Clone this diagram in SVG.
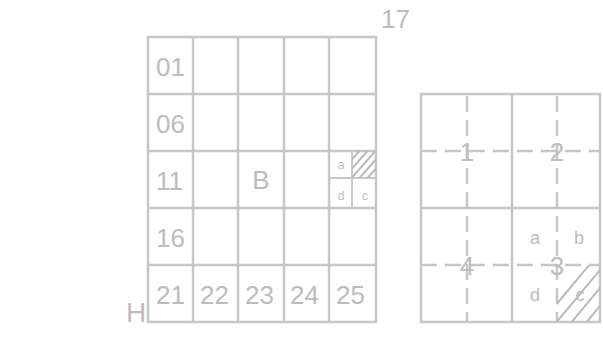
<svg xmlns="http://www.w3.org/2000/svg" width="603" height="352" viewBox="0 0 603 352">
<defs>
<style>
.ln{stroke:#c6c6c6;stroke-width:2.5;fill:none}
.thin{stroke:#c6c6c6;stroke-width:1.8;fill:none}
.dash{stroke:#c6c6c6;stroke-width:2.5;fill:none;stroke-dasharray:16 8}
.t{font-family:"Liberation Sans",Arial,sans-serif;fill:#bcbcbc}
.big{font-size:26px}
.sm{font-size:12px}
.md{font-size:18px}
.num{font-size:26px}
.hatch{stroke:#b8b8b8;stroke-width:2}
</style>
<clipPath id="clipL"><rect x="352" y="151" width="24" height="27"/></clipPath>
<clipPath id="clipR"><rect x="557" y="265" width="43" height="57"/></clipPath>
</defs>
<rect width="603" height="352" fill="#ffffff"/>
<g id="left-grid">
<rect class="ln" x="148" y="37" width="228" height="285"/>
<path class="ln" d="M193 37V322M238 37V322M284 37V322M329 37V322M148 94H376M148 151H376M148 208H376M148 265H376"/>
</g>
<g id="sub-cell">
<path class="thin" d="M352 151V208M329 178H376"/>
<g clip-path="url(#clipL)" class="hatch">
<path d="M348 182L378 148M356 182L386 148M364 182L394 148M340 182L370 148M332 182L362 148"/>
</g>
<text class="t sm" x="341" y="169" text-anchor="middle">a</text>
<text class="t sm" x="341" y="200" text-anchor="middle">d</text>
<text class="t sm" x="365" y="200" text-anchor="middle">c</text>
</g>
<g id="left-labels">
<text class="t big" x="156" y="76">01</text>
<text class="t big" x="156" y="133">06</text>
<text class="t big" x="156" y="190">11</text>
<text class="t big" x="156" y="247">16</text>
<text class="t big" x="156" y="304">21</text>
<text class="t big" x="200" y="304">22</text>
<text class="t big" x="245" y="304">23</text>
<text class="t big" x="290" y="304">24</text>
<text class="t big" x="336" y="304">25</text>
<text class="t big" x="261" y="189" text-anchor="middle">B</text>
<text class="t big" x="381" y="28">17</text>
<text class="t" font-size="28" x="126" y="322">H</text>
</g>
<g id="right-grid">
<rect class="ln" x="421" y="94" width="179" height="228"/>
<path class="ln" d="M512 94V322M421 208H600"/>
<path class="dash" d="M467 96V322M557 96V322M421 151H600M421 265H600"/>
<g clip-path="url(#clipR)" class="hatch">
<path d="M550 330L610 258M565 330L625 258M580 330L640 258M595 330L655 258M535 330L595 258"/>
</g>
</g>
<g id="right-labels">
<text class="t num" x="467" y="161" text-anchor="middle">1</text>
<text class="t num" x="557" y="161" text-anchor="middle">2</text>
<text class="t num" x="557" y="275" text-anchor="middle">3</text>
<text class="t num" x="467" y="275" text-anchor="middle">4</text>
<text class="t md" x="535" y="244" text-anchor="middle">a</text>
<text class="t md" x="579" y="244" text-anchor="middle">b</text>
<text class="t md" x="535" y="301" text-anchor="middle">d</text>
<text class="t md" x="580" y="301" text-anchor="middle">c</text>
</g>
</svg>
